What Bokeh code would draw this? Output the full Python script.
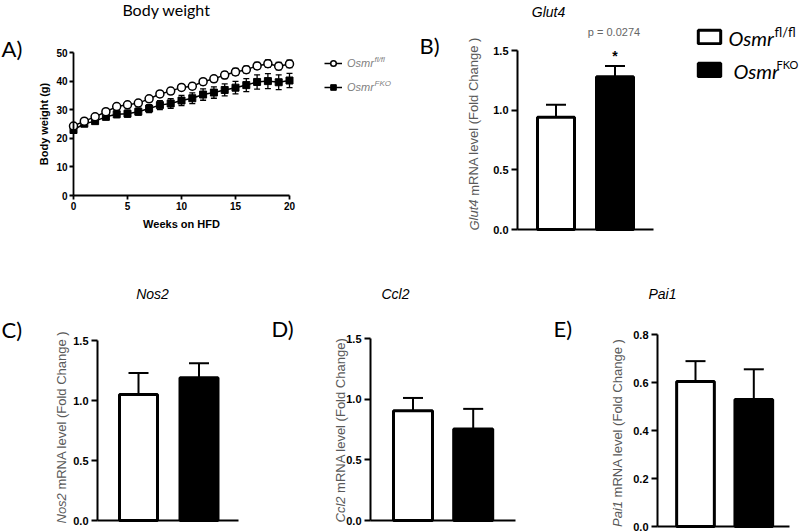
from bokeh.plotting import figure
from bokeh.models import (Range1d, FixedTicker, NumeralTickFormatter, Whisker, TeeHead,
                          ColumnDataSource, Label, Legend, LegendItem, LinearAxis)
from bokeh.core.properties import value
from bokeh.embed import file_html
from bokeh.resources import INLINE

# ---------------- data ----------------
weeks = [0, 1, 2, 3, 4, 5, 6, 7, 8, 9, 10, 11, 12, 13, 14, 15, 16, 17, 18, 19, 20]
bw_flfl = [24.3, 26.0, 27.5, 29.3, 31.1, 31.7, 32.3, 33.8, 35.5, 36.5, 37.8, 38.2, 39.8,
           40.8, 42.1, 43.2, 44.0, 45.3, 46.1, 45.2, 46.0]
bw_flfl_sem = [0.6, 0.6, 0.7, 0.7, 0.8, 0.8, 0.8, 0.9, 1.0, 1.0, 1.0, 1.1, 1.1, 1.1, 1.2,
               1.2, 1.2, 1.2, 1.3, 1.3, 1.3]
bw_fko = [22.9, 25.1, 26.0, 27.5, 28.4, 28.6, 29.3, 30.4, 31.6, 32.2, 33.2, 34.0, 35.3,
          36.0, 36.9, 37.7, 38.6, 39.7, 40.0, 39.6, 40.2]
bw_fko_sem = [0.9, 0.9, 0.9, 1.0, 1.2, 1.2, 1.2, 1.4, 1.6, 1.7, 1.8, 1.9, 2.0, 2.0, 2.1,
              2.2, 2.3, 2.5, 2.6, 2.6, 2.5]
weeks_ticks = [0, 5, 10, 15, 20]
bw_ticks = [0, 10, 20, 30, 40, 50]

groups = [1, 2]                      # Osmr fl/fl, Osmr FKO
group_fill = ["white", "black"]
glut4_mean = [0.94, 1.28]
glut4_sem = [0.105, 0.09]
nos2_mean = [1.05, 1.19]
nos2_sem = [0.18, 0.12]
ccl2_mean = [0.905, 0.755]
ccl2_sem = [0.105, 0.165]
pai1_mean = [0.604, 0.529]
pai1_sem = [0.085, 0.126]
fold_ticks = [0.0, 0.5, 1.0, 1.5]
pai1_ticks = [0.0, 0.2, 0.4, 0.6, 0.8]
p_value_text = "p = 0.0274"

ARIAL = "Liberation Sans"
CAL = "Lato"
GREY = "#595959"
W, H = 799, 532

# one canvas; every panel has its own ranges and axes placed in it
p = figure(width=W, height=H, min_border=0, x_range=Range1d(0, W), y_range=Range1d(H, 0),
           x_axis_type=None, y_axis_type=None, toolbar_location=None,
           output_backend="svg", tools="")
p.outline_line_color = None
p.grid.visible = False
p.title.visible = False
p.background_fill_color = "white"
p.border_fill_color = "white"


def lin_range(a, pa, b, pb, total):
    s = (pb - pa) / (b - a)
    start = a - pa / s
    return Range1d(start, start + total / s), s


def style_axis(ax, size, lw, tick_out, standoff):
    ax.axis_line_color = "black"
    ax.axis_line_width = lw
    ax.major_tick_line_color = "black"
    ax.major_tick_line_width = lw
    ax.minor_tick_line_color = None
    ax.major_tick_in = 0
    ax.major_tick_out = tick_out
    ax.major_label_standoff = standoff
    ax.major_label_text_font = ARIAL
    ax.major_label_text_font_style = "bold"
    ax.major_label_text_font_size = f"{size}px"
    ax.major_label_text_color = "black"


def txt(X, Y, text, size, font=ARIAL, style="normal", color="black",
        align="left", baseline="middle", angle=0.0):
    p.add_layout(Label(x=X, y=Y, text=text, text_font=font, text_font_size=f"{size}px",
                       text_font_style=style, text_color=color, text_align=align,
                       text_baseline=baseline, angle=angle))


def bar_panel(name, c1, c2, axis_px, end_px, y0_px, ytop_px, ymax, ticks, means, sems,
              bar_px):
    xr, sx = lin_range(1, c1, 2, c2, W)
    yr, sy = lin_range(0, H - y0_px, ymax, H - ytop_px, H)
    p.extra_x_ranges[name] = xr
    p.extra_y_ranges[name] = yr
    src = ColumnDataSource(dict(x=groups, top=means,
                                upper=[m + s for m, s in zip(means, sems)],
                                fill=group_fill))
    r = p.vbar(x="x", top="top", width=bar_px / sx, fill_color="fill", line_color="black",
               line_width=3, source=src, x_range_name=name, y_range_name=name)
    p.add_layout(Whisker(source=src, base="x", lower="top", upper="upper",
                         x_range_name=name, y_range_name=name,
                         line_color="black", line_width=2, lower_head=None,
                         upper_head=TeeHead(size=20, line_width=2, line_color="black")))
    x_axis_loc = 1 + (axis_px - c1) / sx
    x_end = 1 + (end_px - c1) / sx
    ya = LinearAxis(x_range_name=name, y_range_name=name, fixed_location=x_axis_loc,
                    bounds=(0, ymax), ticker=FixedTicker(ticks=ticks),
                    formatter=NumeralTickFormatter(format="0.0"))
    style_axis(ya, 11, 2, 6, 3)
    p.add_layout(ya, "left")
    xa = LinearAxis(x_range_name=name, y_range_name=name, fixed_location=0,
                    bounds=(x_axis_loc, x_end), ticker=FixedTicker(ticks=[]))
    style_axis(xa, 11, 2, 0, 0)
    p.add_layout(xa, "below")
    return r


# ---------------- Panel A: body weight ----------------
xrA, _ = lin_range(0, 73, 20, 289, W)
yrA, _ = lin_range(0, H - 195, 50, H - 52, H)
p.extra_x_ranges["A"] = xrA
p.extra_y_ranges["A"] = yrA
srcA1 = ColumnDataSource(dict(w=weeks, m=bw_flfl,
                              lo=[m - s for m, s in zip(bw_flfl, bw_flfl_sem)],
                              hi=[m + s for m, s in zip(bw_flfl, bw_flfl_sem)]))
srcA2 = ColumnDataSource(dict(w=weeks, m=bw_fko,
                              lo=[m - s for m, s in zip(bw_fko, bw_fko_sem)],
                              hi=[m + s for m, s in zip(bw_fko, bw_fko_sem)]))
for s in (srcA2, srcA1):
    p.add_layout(Whisker(source=s, base="w", lower="lo", upper="hi", level="underlay",
                         x_range_name="A", y_range_name="A",
                         line_color="black", line_width=1.3,
                         upper_head=TeeHead(size=6, line_width=1.3, line_color="black"),
                         lower_head=TeeHead(size=6, line_width=1.3, line_color="black")))
kwA = dict(x_range_name="A", y_range_name="A")
rk_l = p.line("w", "m", source=srcA2, line_color="black", line_width=1.5, **kwA)
rk_m = p.scatter("w", "m", source=srcA2, marker="square", size=7, fill_color="black",
                 line_color="black", **kwA)
rf_l = p.line("w", "m", source=srcA1, line_color="black", line_width=1.5, **kwA)
rf_m = p.scatter("w", "m", source=srcA1, marker="circle", size=8, fill_color="white",
                 line_color="black", line_width=1.5, **kwA)
yaA = LinearAxis(x_range_name="A", y_range_name="A", fixed_location=0, bounds=(0, 50),
                 ticker=FixedTicker(ticks=bw_ticks), axis_label="Body weight (g)")
xaA = LinearAxis(x_range_name="A", y_range_name="A", fixed_location=0, bounds=(0, 20),
                 ticker=FixedTicker(ticks=weeks_ticks), axis_label="Weeks on HFD")
for ax in (xaA, yaA):
    style_axis(ax, 10, 1.8, 4, 2)
    ax.axis_label_text_font = ARIAL
    ax.axis_label_text_font_style = "bold"
    ax.axis_label_text_font_size = "11px"
    ax.axis_label_text_color = "black"
xaA.axis_label_standoff = 5
yaA.axis_label_standoff = 3
p.add_layout(yaA, "left")
p.add_layout(xaA, "below")

legA = Legend(items=[LegendItem(label=value("Osmr"), renderers=[rf_l, rf_m]),
                     LegendItem(label=value("Osmr"), renderers=[rk_l, rk_m])],
              location=(324, H - 94), padding=0, margin=0, spacing=10,
              glyph_width=18, glyph_height=14, label_height=14, label_standoff=5,
              border_line_color=None, background_fill_alpha=0,
              label_text_font=ARIAL, label_text_font_style="italic",
              label_text_font_size="11px", label_text_color="#7f7f7f")
p.add_layout(legA)
txt(374, 59, "fl/fl", 8, style="italic", color="#7f7f7f")
txt(374, 83, "FKO", 8, style="italic", color="#7f7f7f")
txt(166, 9, "Body weight", 16, font=CAL, align="center")
txt(1, 48, "A)", 22, font=CAL)

# ---------------- Panel B: Glut4 ----------------
rB = bar_panel("B", 555.5, 614.5, 517, 653, 229, 50, 1.5, fold_ticks,
               glut4_mean, glut4_sem, 37)
txt(548, 11, "Glut4", 14, style="italic", align="center")
txt(419, 45, "B)", 22, font=CAL)
txt(613.5, 31, p_value_text, 11, color="#666666", align="center")
txt(614.5, 55, "*", 14, style="bold", align="center", baseline="alphabetic")
txt(473.5, 230, "Glut4", 13, style="italic", color=GREY, angle=1.5708)
txt(473.5, 195.3, "mRNA level (Fold Change )", 13, color=GREY, angle=1.5708)

# figure legend (swatches from the bar renderer, texts as labels)
for idx, top in ((0, 28), (1, 61)):
    lg = Legend(items=[LegendItem(label=value(" "), renderers=[rB], index=idx)],
                location=(695, H - (top + 17)), padding=0, margin=0,
                glyph_width=28, glyph_height=17, label_height=17, label_width=1,
                label_standoff=0, border_line_color=None, background_fill_alpha=0,
                label_text_font_size="2px")
    p.add_layout(lg)
txt(728, 37, "Osmr", 20, font=CAL, style="italic")
txt(774, 31, "fl/fl", 13, font=CAL)
txt(733, 70, "Osmr", 20, font=CAL, style="italic")
txt(776, 64, "FKO", 11, font=CAL)

# ---------------- Panel C: Nos2 ----------------
bar_panel("C", 138, 198.5, 97, 238, 520, 340, 1.5, fold_ticks, nos2_mean, nos2_sem, 38)
txt(1, 329, "C)", 22, font=CAL)
txt(152, 293, "Nos2", 14, style="italic", align="center")
txt(61, 523, "Nos2", 13, style="italic", color=GREY, angle=1.5708)
txt(61, 489.1, "mRNA level (Fold Change )", 13, color=GREY, angle=1.5708)

# ---------------- Panel D: Ccl2 ----------------
bar_panel("D", 412.5, 472.7, 370, 515, 520, 338, 1.5, fold_ticks, ccl2_mean, ccl2_sem, 39)
txt(271, 328, "D)", 22, font=CAL)
txt(395, 293, "Ccl2", 14, style="italic", align="center")
txt(340, 522, "Ccl2", 13, style="italic", color=GREY, angle=1.5708)
txt(340, 492.4, "mRNA level (Fold Change)", 13, color=GREY, angle=1.5708)

# ---------------- Panel E: Pai1 ----------------
bar_panel("E", 695, 753.3, 657, 789, 526, 334, 0.8, pai1_ticks, pai1_mean, pai1_sem, 37.7)
txt(553, 328, "E)", 22, font=CAL)
txt(662, 293, "Pai1", 14, style="italic", align="center")
txt(617, 526.5, "Pai1", 13, style="italic", color=GREY, angle=1.5708)
txt(617, 496.9, "mRNA level (Fold Change )", 13, color=GREY, angle=1.5708)

p.styles = {"position": "absolute", "left": "0px", "top": "0px"}

open("out.html", "w").write(file_html(p, INLINE))
